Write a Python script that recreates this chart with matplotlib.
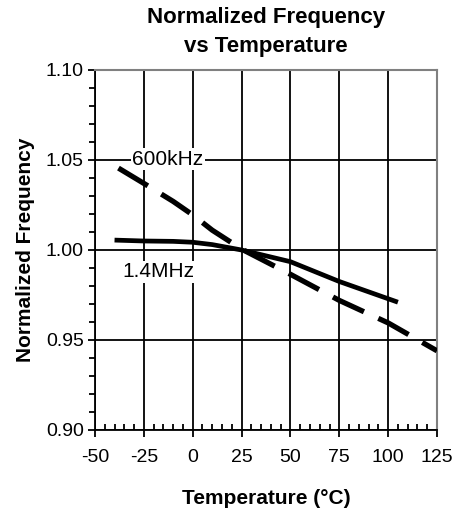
import matplotlib
matplotlib.use("Agg")
import matplotlib.pyplot as plt
from matplotlib.ticker import MultipleLocator

plt.rcParams['font.family'] = ['Liberation Sans', 'DejaVu Sans']
plt.rcParams['axes.unicode_minus'] = False

temp_600k = [-38, -25, -10, 0, 10, 25, 50, 75, 100, 125]
freq_600k = [1.0455, 1.037, 1.027, 1.0195, 1.011, 1.0005, 0.9865, 0.972, 0.9595, 0.944]
temp_1m4 = [-40, -25, -10, 0, 10, 25, 50, 75, 105]
freq_1m4 = [1.0055, 1.005, 1.0048, 1.0043, 1.003, 1.000, 0.9935, 0.9825, 0.971]
xticks = [-50, -25, 0, 25, 50, 75, 100, 125]
yticks = [0.90, 0.95, 1.00, 1.05, 1.10]

fig = plt.figure(figsize=(4.74, 5.08), dpi=100)
ax = fig.add_axes([95/474, 1 - 430/508, (437-95)/474, (430-70)/508])

ax.plot(temp_1m4, freq_1m4, color='black', lw=3.4, solid_capstyle='butt', zorder=3)
ax.plot(temp_600k, freq_600k, color='black', lw=3.8, dashes=(6.5, 3), zorder=3)

ax.set_xlim(-50, 125)
ax.set_ylim(0.90, 1.10)
ax.set_xticks(xticks)
ax.set_yticks(yticks)
ax.set_yticklabels([f"{v:.2f}" for v in yticks])
ax.yaxis.set_minor_locator(MultipleLocator(0.01))
ax.xaxis.set_minor_locator(MultipleLocator(5))
ax.grid(True, which='major', color='black', lw=1.3)
ax.tick_params(axis='both', which='major', labelsize=14, length=5, width=1.3, direction='out')
ax.tick_params(axis='x', which='major', pad=9)
ax.tick_params(axis='y', which='major', pad=3)
ax.tick_params(axis='y', which='minor', length=4, width=1.3, direction='out')
ax.tick_params(axis='x', which='minor', length=4, width=1.3, direction='in')
for s in ['left', 'bottom']:
    ax.spines[s].set_color('black')
    ax.spines[s].set_linewidth(1.3)
for s in ['top', 'right']:
    ax.spines[s].set_color('#808080')
    ax.spines[s].set_linewidth(1.5)

ax.text(-31, 1.0505, '600kHz', fontsize=15, ha='left', va='center',
        bbox=dict(facecolor='white', edgecolor='none', pad=1), zorder=4)
ax.text(-36, 0.9878, '1.4MHz', fontsize=15, ha='left', va='center',
        bbox=dict(facecolor='white', edgecolor='none', pad=1), zorder=4)

ax.set_xlabel('Temperature (°C)', fontsize=15, fontweight='bold', labelpad=16)
ax.set_ylabel('Normalized Frequency', fontsize=15, fontweight='bold', labelpad=8)
fig.text(266/474, 1 - 32/508, 'Normalized Frequency\nvs Temperature', fontsize=16,
         fontweight='bold', ha='center', va='center', linespacing=1.45)

fig.savefig('out.png', dpi=100)
